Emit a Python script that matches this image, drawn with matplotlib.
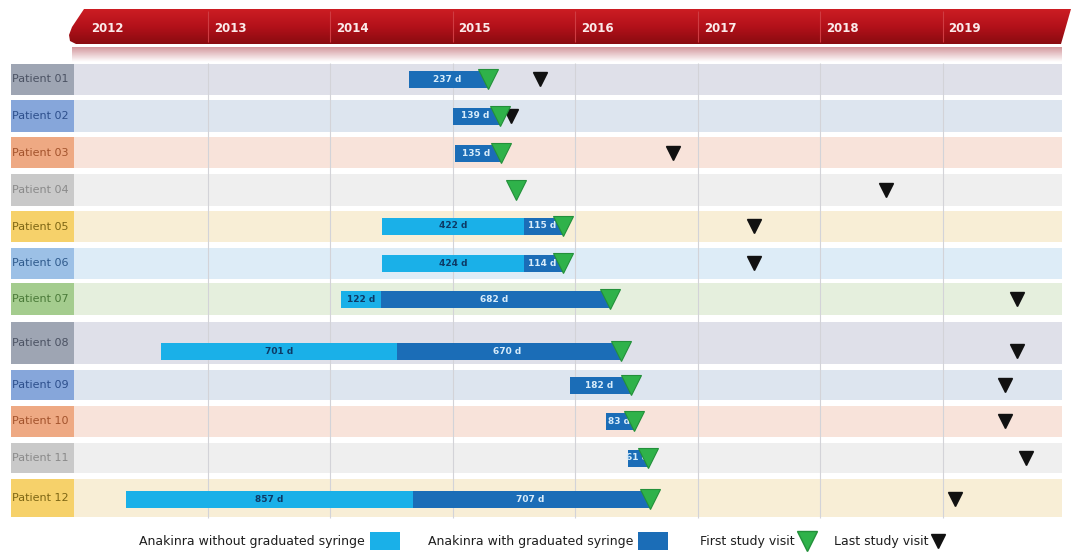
#!/usr/bin/env python3
"""Anakinra treatment timeline per patient (graduated vs non-graduated syringe)."""

import datetime as dt

import matplotlib

matplotlib.use("Agg")
import matplotlib.dates as mdates
import matplotlib.pyplot as plt
import matplotlib.transforms as mtransforms
import numpy as np
from matplotlib.colors import LinearSegmentedColormap
from matplotlib.patches import Polygon, Rectangle

# --- data -------------------------------------------------------------------
patients = [f"Patient {i:02d}" for i in range(1, 13)]
days_without = [0, 0, 0, 0, 422, 424, 122, 701, 0, 0, 0, 857]
days_with = [237, 139, 135, 0, 115, 114, 682, 670, 182, 83, 61, 707]
first_visit = [
    "2015-04-18", "2015-05-21", "2015-05-24", "2015-07-08", "2015-11-25", "2015-11-25",
    "2016-04-15", "2016-05-18", "2016-06-17", "2016-06-25", "2016-08-06", "2016-08-12",
]
last_visit = [
    "2015-09-18", "2015-06-23", "2016-10-19", "2018-07-16", "2017-06-18", "2017-06-18",
    "2019-08-10", "2019-08-10", "2019-07-05", "2019-07-05", "2019-09-06", "2019-02-06",
]
years = list(range(2012, 2020))

# --- layout (pixel rows, colours) -------------------------------------------
row_top = [64, 100, 137, 174, 211, 248, 283, 322, 370, 406, 443, 479]
row_bot = [95, 132, 168, 206, 242, 279, 315, 364, 400, 437, 473, 517]
bar_y = [79, 116, 153, 190, 226, 263, 299, 351, 385, 421, 458, 499]
box_col = ["#9ea5b3", "#86a6da", "#eea983", "#c9c9c9", "#f6d16a", "#9cc0e6", "#a4cc8e"]
band_col = ["#dfe0e9", "#dde5ef", "#f8e3da", "#efefef", "#f8eed6", "#ddecf7", "#e5efdd"]
txt_col = ["#4b5263", "#2d4f8c", "#a3532c", "#8a8a8a", "#7d6614", "#2f5a8c", "#4a7a38"]
style_idx = [0, 1, 2, 3, 4, 5, 6, 0, 1, 2, 3, 4]

LIGHT = "#1ab0e8"
DARK = "#1b6db7"
GREEN = "#2fb24a"

fam = ["Liberation Sans Narrow", "DejaVu Sans"]
plt.rcParams["font.family"] = fam

W, H = 1071, 553
fig = plt.figure(figsize=(W / 100, H / 100), dpi=100)

deco = fig.add_axes([0, 0, 1, 1])
deco.axis("off")

ax = fig.add_axes([0, 0, 1, 1])
ax.set_zorder(2)
ax.patch.set_alpha(0)
ax.axis("off")

# x scale: 2012-01-01 sits at pixel 85, 122.5 px per year
base = mdates.date2num(dt.date(2012, 1, 1))
ppd = 122.5 / 365.25
x_left = base - 85 / ppd
x_right = base + (W - 85) / ppd

# --- header ribbon ------------------------------------------------------------
hdr = Polygon([(84, 9), (W, 9), (1061, 44), (76, 44), (70, 41), (69, 35), (72, 27)],
              closed=True, facecolor="none", edgecolor="none")
deco.add_patch(hdr)
red_cmap = LinearSegmentedColormap.from_list("hdr", ["#cc1d23", "#b3111a", "#8a0b10"])
grad = np.linspace(0, 1, 64).reshape(-1, 1)
img = deco.imshow(grad, extent=[60, W, 44, 9], aspect="auto", cmap=red_cmap, zorder=3)
img.set_clip_path(hdr)

shade = np.ones((32, 1, 4))
shade[..., :3] = np.array([0.82, 0.58, 0.60])
shade[:, 0, 3] = np.linspace(0.95, 0.0, 32)
deco.imshow(shade, extent=[72, 1062, 62, 47], aspect="auto", zorder=1)

# --- rows ---------------------------------------------------------------------
for i, name in enumerate(patients):
    s = style_idx[i]
    h = row_bot[i] - row_top[i]
    deco.add_patch(Rectangle((74, row_top[i]), 988, h, facecolor=band_col[s], edgecolor="none", zorder=2))
    deco.add_patch(Rectangle((11, row_top[i]), 63, h, facecolor=box_col[s], edgecolor="none", zorder=2))
    deco.text(12, (row_top[i] + row_bot[i]) / 2, name, ha="left", va="center",
              fontsize=8, color=txt_col[s], zorder=4)

# --- legend -------------------------------------------------------------------
ly = 541
deco.text(365, ly, "Anakinra without graduated syringe", ha="right", va="center", fontsize=9, color="#1e1e1e")
deco.add_patch(Rectangle((370, ly - 9), 30, 18, facecolor=LIGHT, edgecolor="none"))
deco.text(633, ly, "Anakinra with graduated syringe", ha="right", va="center", fontsize=9, color="#1e1e1e")
deco.add_patch(Rectangle((638, ly - 9), 30, 18, facecolor=DARK, edgecolor="none"))
deco.text(795, ly, "First study visit", ha="right", va="center", fontsize=9, color="#1e1e1e")
deco.plot([807], [ly], marker="v", markersize=14, color=GREEN, markeredgecolor="#23903a", ls="none")
deco.text(929, ly, "Last study visit", ha="right", va="center", fontsize=9, color="#1e1e1e")
deco.plot([938], [ly], marker="v", markersize=10, color="#111111", ls="none")

deco.set_xlim(0, W)
deco.set_ylim(H, 0)

# --- year grid & labels -------------------------------------------------------
year_x = [mdates.date2num(dt.date(y, 1, 1)) for y in years]
ax.vlines(year_x[1:], 63, 518, color="#d3d3d8", lw=0.8, zorder=1)
ax.vlines(year_x[1:], 11, 42, color="#cf3c42", lw=0.8, zorder=1)
lbl_tr = mtransforms.offset_copy(ax.transData, fig=fig, x=6, y=0, units="dots")
for x, y in zip(year_x, years):
    ax.text(x, 28, str(y), transform=lbl_tr, ha="left", va="center",
            fontsize=8.5, fontweight="bold", color="#fbeaea", zorder=2)

# --- bars and visits ----------------------------------------------------------
first_num = [mdates.date2num(dt.date.fromisoformat(d)) for d in first_visit]
last_num = [mdates.date2num(dt.date.fromisoformat(d)) for d in last_visit]
with_start = [f - w for f, w in zip(first_num, days_with)]
without_start = [s - w for s, w in zip(with_start, days_without)]

ax.barh(bar_y, days_without, left=without_start, height=17, color=LIGHT, edgecolor="none", zorder=3)
ax.barh(bar_y, days_with, left=with_start, height=17, color=DARK, edgecolor="none", zorder=3)

for i in range(len(patients)):
    if days_without[i]:
        ax.text(without_start[i] + days_without[i] / 2, bar_y[i], f"{days_without[i]} d",
                ha="center", va="center", fontsize=6.5, fontweight="bold", color="#0d3a66", zorder=4)
    if days_with[i]:
        ax.text(with_start[i] + days_with[i] / 2 - 4, bar_y[i], f"{days_with[i]} d",
                ha="center", va="center", fontsize=6.5, fontweight="bold", color="#d8ecfa", zorder=4)

ax.plot(last_num, bar_y, marker="v", markersize=10, color="#111111", ls="none", zorder=5)
ax.plot(first_num, bar_y, marker="v", markersize=15, color=GREEN,
        markeredgecolor="#23903a", markeredgewidth=0.8, ls="none", zorder=6)

ax.set_xlim(x_left, x_right)
ax.set_ylim(H, 0)

fig.savefig("out.png", dpi=100)
plt.close(fig)
